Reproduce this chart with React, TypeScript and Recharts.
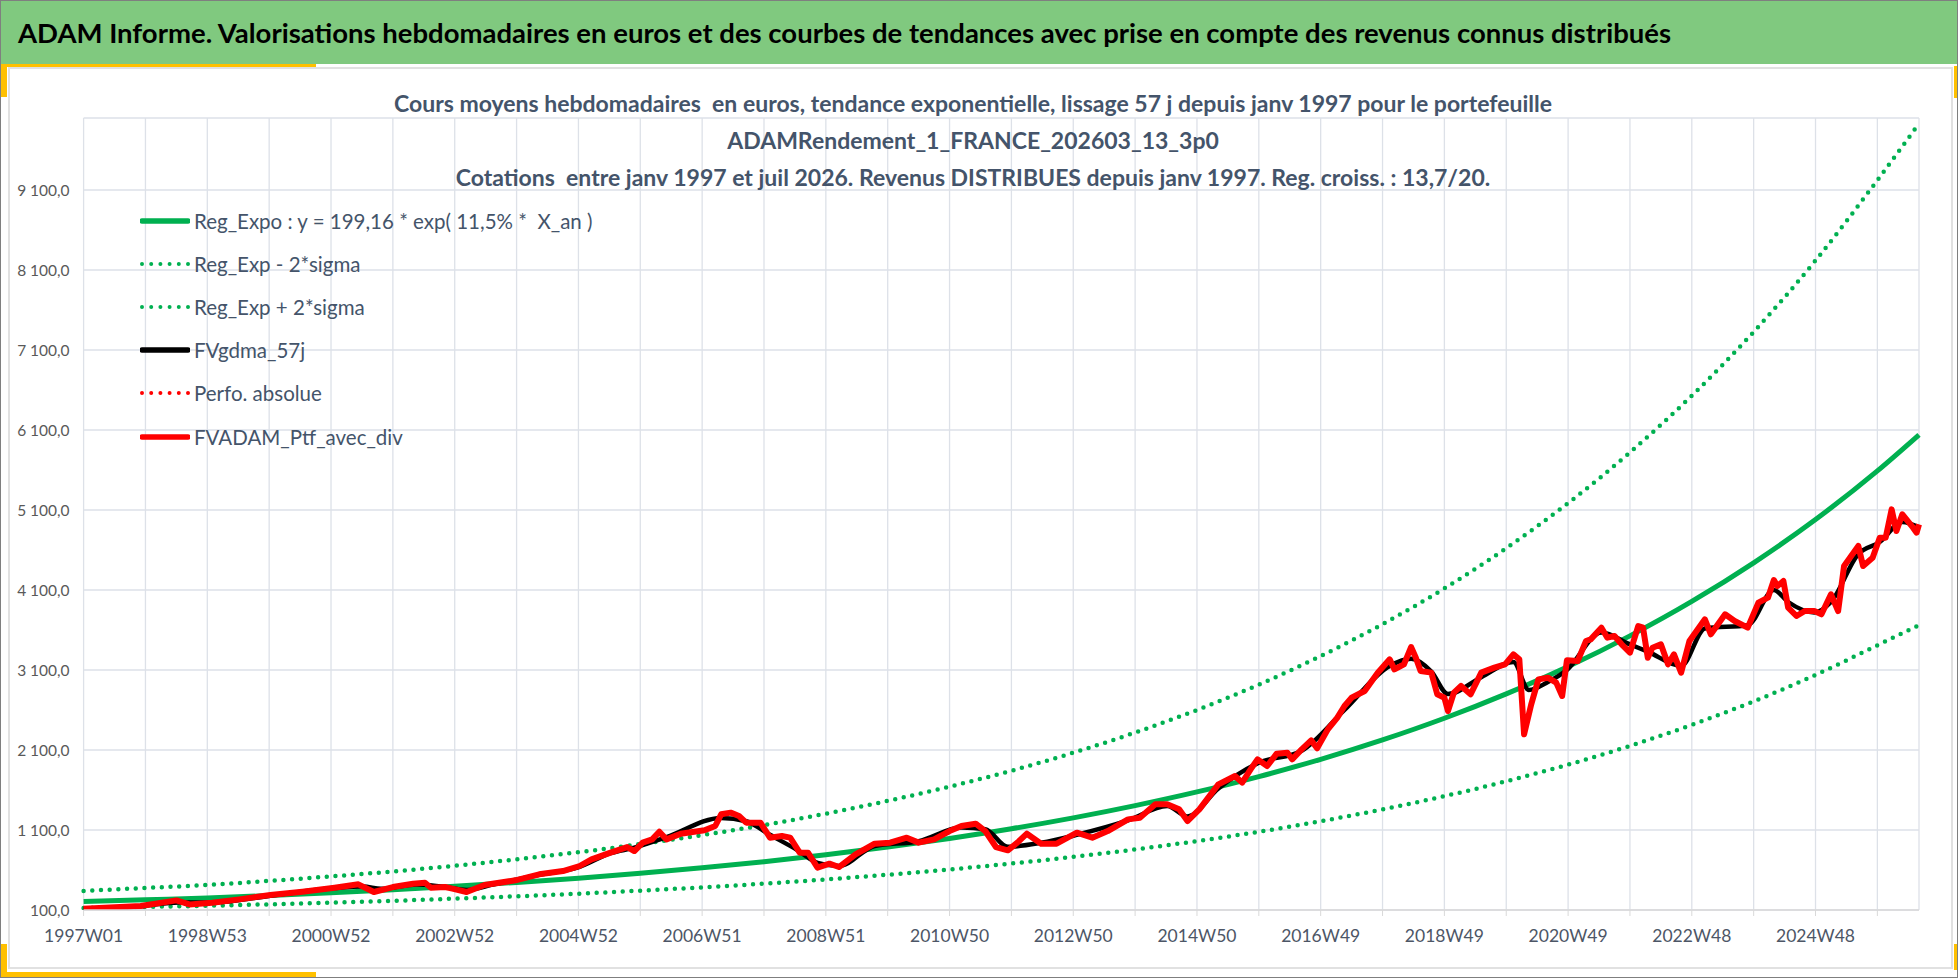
import React from "react";
import { LineChart, Line, XAxis, YAxis, CartesianGrid } from "recharts";

const FONT = "Lato, 'Open Sans', sans-serif";
const SLATE = "#44546a";
const GREEN = "#00b050";
const RED = "#ff0000";

// category labels shown every 104 weeks, grid every 52 weeks
const weekLabels = [
  "1997W01", "1998W53", "2000W52", "2002W52", "2004W52", "2006W51", "2008W51", "2010W50",
  "2012W50", "2014W50", "2016W49", "2018W49", "2020W49", "2022W48", "2024W48",
];
const gridWeeks = [
  0, 52, 104, 156, 208, 260, 312, 364, 416, 468, 520, 572, 624, 676, 728, 780, 832, 884,
  936, 988, 1040, 1092, 1144, 1196, 1248, 1300, 1352, 1404, 1456, 1508,
];
const yTicks = [100, 1100, 2100, 3100, 4100, 5100, 6100, 7100, 8100, 9100];

// trend curves, read at each yearly gridline + last week
const trendWeeks = [
  0, 52, 104, 156, 208, 260, 312, 364, 416, 468, 520, 572, 624, 676, 728, 780, 832, 884,
  936, 988, 1040, 1092, 1144, 1196, 1248, 1300, 1352, 1404, 1456, 1508, 1543,
];
const regExpo = [
  205, 228, 250, 281, 315, 353, 396, 445, 498, 560, 628, 704, 790, 887, 995, 1116, 1252, 1405,
  1576, 1768, 1984, 2226, 2497, 2802, 3143, 3527, 3957, 4440, 4981, 5589, 6040,
];
const regLow = [
  125, 139, 153, 171, 192, 215, 242, 271, 304, 342, 383, 429, 482, 541, 607, 681, 764, 857,
  961, 1078, 1210, 1358, 1523, 1709, 1917, 2151, 2414, 2708, 3038, 3409, 3660,
];
const regHigh = [
  338, 376, 413, 464, 520, 582, 653, 734, 822, 924, 1036, 1162, 1304, 1464, 1642, 1841, 2066, 2318,
  2600, 2917, 3274, 3673, 4120, 4623, 5186, 5820, 6529, 7326, 8219, 9222, 9930,
];

// FVADAM_Ptf_avec_div
const ptfWeeks = [
  0, 48, 78, 89, 108, 131, 157, 184, 211, 231, 244, 260, 277, 287, 292, 304, 310, 322, 337, 363,
  383, 403, 417, 427, 443, 457, 463, 470, 478, 484, 490, 502, 522, 531, 536, 544, 551, 557, 569, 577,
  587, 594, 602, 609, 617, 627, 635, 649, 665, 678, 692, 702, 715, 728, 738, 750, 758, 767, 777, 785,
  793, 805, 818, 835, 848, 861, 878, 888, 901, 911, 921, 928, 938, 954, 968, 974, 982, 987, 995, 1003,
  1012, 1016, 1024, 1032, 1037, 1046, 1054, 1060, 1066, 1077, 1088, 1098, 1102, 1110, 1116, 1120, 1124, 1133, 1138, 1144,
  1147, 1152, 1158, 1166, 1175, 1186, 1195, 1202, 1207, 1211, 1217, 1223, 1231, 1238, 1243, 1247, 1256, 1263, 1267, 1276,
  1281, 1287, 1293, 1300, 1307, 1311, 1315, 1319, 1326, 1332, 1337, 1343, 1350, 1363, 1368, 1380, 1388, 1399, 1408, 1416,
  1421, 1424, 1429, 1433, 1440, 1447, 1455, 1461, 1469, 1475, 1480, 1492, 1496, 1504, 1510, 1515, 1520, 1524, 1529, 1538,
  1541, 1543,
];
const ptfValues = [
  115, 150, 220, 170, 190, 233, 287, 329, 379, 421, 325, 387, 429, 441, 379, 387, 367, 325, 412, 471,
  546, 587, 650, 733, 817, 887, 837, 942, 983, 1079, 983, 1054, 1096, 1150, 1296, 1317, 1275, 1192, 1192, 1004,
  1025, 1004, 817, 817, 629, 679, 637, 796, 929, 942, 1004, 942, 983, 1087, 1150, 1179, 1087, 887, 846, 942,
  1054, 929, 929, 1067, 1004, 1087, 1233, 1254, 1421, 1421, 1358, 1212, 1358, 1671, 1775, 1692, 1879, 1983, 1900, 2054,
  2067, 1983, 2108, 2221, 2121, 2358, 2504, 2650, 2754, 2837, 3067, 3233, 3108, 3171, 3387, 3254, 3087, 3067, 2796, 2754,
  2587, 2817, 2900, 2796, 3067, 3129, 3171, 3296, 3233, 2296, 2671, 2983, 3004, 2942, 2775, 3221, 3212, 3462, 3483, 3629,
  3504, 3525, 3421, 3317, 3650, 3629, 3254, 3379, 3421, 3171, 3296, 3067, 3462, 3733, 3546, 3796, 3712, 3629, 3942, 4004,
  4225, 4150, 4212, 3879, 3775, 3837, 3837, 3796, 4046, 3837, 4400, 4650, 4400, 4504, 4754, 4754, 5108, 4837, 5046, 4879,
  4817, 4921,
];

// FVgdma_57j (smoothed, mostly hidden under the red line)
const gdmaWeeks = [
  0, 50, 80, 110, 160, 211, 235, 250, 280, 300, 322, 345, 383, 417, 443, 463, 490, 536, 557, 577,
  600, 617, 635, 665, 702, 738, 758, 777, 805, 835, 878, 911, 928, 954, 988, 1024, 1060, 1098, 1116, 1133,
  1147, 1175, 1202, 1215, 1231, 1247, 1276, 1300, 1315, 1343, 1363, 1399, 1421, 1433, 1455, 1469, 1492, 1510, 1529, 1543,
];
const gdmaValues = [
  115, 150, 195, 195, 285, 375, 395, 365, 420, 395, 350, 420, 540, 640, 810, 880, 1010, 1250, 1210, 1040,
  850, 690, 650, 900, 960, 1130, 1110, 890, 940, 1040, 1220, 1400, 1270, 1620, 1940, 2090, 2600, 3150, 3240, 3080,
  2800, 3010, 3200, 2850, 2950, 3100, 3570, 3420, 3330, 3150, 3620, 3660, 4100, 3950, 3820, 3950, 4550, 4700, 4950, 4880,
];

const legendItems = [
  { label: "Reg_Expo : y = 199,16 * exp( 11,5% *  X_an )", color: GREEN, dotted: false },
  { label: "Reg_Exp - 2*sigma", color: GREEN, dotted: true },
  { label: "Reg_Exp + 2*sigma", color: GREEN, dotted: true },
  { label: "FVgdma_57j", color: "#000000", dotted: false },
  { label: "Perfo. absolue", color: RED, dotted: true },
  { label: "FVADAM_Ptf_avec_div", color: RED, dotted: false },
];

const subtitles = [
  "Cours moyens hebdomadaires  en euros, tendance exponentielle, lissage 57 j depuis janv 1997 pour le portefeuille",
  "ADAMRendement_1_FRANCE_202603_13_3p0",
  "Cotations  entre janv 1997 et juil 2026. Revenus DISTRIBUES depuis janv 1997. Reg. croiss. : 13,7/20.",
];

const pts = (ws: number[], vs: number[]) => ws.map((w, i) => ({ w, v: vs[i] }));

const fmtY = (v: number) => {
  const th = Math.floor(v / 1000);
  const rest = v % 1000;
  return th > 0 ? `${th} ${String(rest).padStart(3, "0")},0` : `${rest},0`;
};

const fmtX = (w: number) => (w % 104 === 0 ? weekLabels[w / 104] ?? "" : "");

function ChartLegend() {
  return (
    <div style={{ position: "absolute", left: 139, top: 198, fontFamily: FONT }}>
      {legendItems.map((it) => (
        <div key={it.label} style={{ display: "flex", alignItems: "center", height: 43.2 }}>
          <svg width={50} height={12} style={{ display: "block" }}>
            <line
              x1={2} y1={6} x2={48} y2={6}
              stroke={it.color}
              strokeWidth={it.dotted ? 4 : 5.5}
              strokeLinecap="round"
              strokeDasharray={it.dotted ? "0 9.2" : undefined}
            />
          </svg>
          <span style={{ marginLeft: 4, fontSize: 20.5, color: SLATE, whiteSpace: "pre" }}>{it.label}</span>
        </div>
      ))}
    </div>
  );
}

export default function App() {
  const dotted = { strokeWidth: 4.5, strokeDasharray: "0 8.7", strokeLinecap: "round" as const };
  return (
    <div style={{ position: "absolute", left: 0, top: 0, width: 1958, height: 978, background: "#fff",
      border: "1px solid #7f7f7f", boxSizing: "border-box", overflow: "hidden", fontFamily: FONT }}>
      {/* header band */}
      <div style={{ position: "absolute", left: 0, top: 0, width: 1958, height: 63, background: "#80c97f" }} />
      <div style={{ position: "absolute", left: 17, top: 0, height: 63, lineHeight: "64px", fontSize: 27.5,
        fontWeight: "bold", color: "#000", whiteSpace: "pre" }}>
        ADAM Informe. Valorisations hebdomadaires en euros et des courbes de tendances avec prise en compte des revenus connus distribués
      </div>
      {/* inner panel */}
      <div style={{ position: "absolute", left: 7, top: 66, width: 1945, height: 902, border: "2px solid #e1e1e1",
        boxSizing: "border-box" }} />
      {/* yellow accents */}
      <div style={{ position: "absolute", left: 0, top: 63, width: 315, height: 3, background: "#ffc000" }} />
      <div style={{ position: "absolute", left: 0, top: 63, width: 6, height: 33, background: "#ffc000" }} />
      <div style={{ position: "absolute", left: 0, top: 943, width: 6, height: 34, background: "#ffc000" }} />
      <div style={{ position: "absolute", left: 0, top: 971, width: 315, height: 6, background: "#ffc000" }} />
      <div style={{ position: "absolute", left: 1953, top: 65, width: 3, height: 32, background: "#ffc000" }} />
      <div style={{ position: "absolute", left: 1953, top: 943, width: 3, height: 26, background: "#ffc000" }} />

      <div style={{ position: "absolute", left: 0, top: 0 }}>
        <LineChart width={1958} height={978} margin={{ top: 117, right: 40, bottom: 29, left: 12.6 }}>
          <CartesianGrid stroke="#dde1e8" strokeWidth={1.3} />
          <XAxis
            dataKey="w" type="number" domain={[0, 1543]} ticks={gridWeeks} interval={0}
            tickFormatter={fmtX} height={40} tickSize={6} tickMargin={14}
            axisLine={{ stroke: "#d9d9d9", strokeWidth: 1.3 }} tickLine={{ stroke: "#d9d9d9" }}
            tick={{ fill: "#4d5666", fontSize: 17.5, fontFamily: FONT }}
          />
          <YAxis
            type="number" domain={[100, 10000]} ticks={yTicks} interval={0} allowDataOverflow
            tickFormatter={fmtY} width={70} axisLine={false} tickLine={false} tickMargin={8}
            tick={{ fill: "#595959", fontSize: 15.5, fontFamily: FONT }}
          />
          <Line data={pts(trendWeeks, regExpo)} dataKey="v" type="monotone" stroke={GREEN} strokeWidth={5}
            dot={false} isAnimationActive={false} />
          <Line data={pts(trendWeeks, regLow)} dataKey="v" type="monotone" stroke={GREEN} {...dotted}
            dot={false} isAnimationActive={false} />
          <Line data={pts(trendWeeks, regHigh)} dataKey="v" type="monotone" stroke={GREEN} {...dotted}
            dot={false} isAnimationActive={false} />
          <Line data={pts(gdmaWeeks, gdmaValues)} dataKey="v" type="monotone" stroke="#000" strokeWidth={4.5}
            dot={false} isAnimationActive={false} />
          <Line data={pts(ptfWeeks, ptfValues)} dataKey="v" type="linear" stroke={RED} strokeWidth={6}
            strokeLinejoin="round" dot={false} isAnimationActive={false} />
        </LineChart>
      </div>

      {subtitles.map((s, i) => (
        <div key={i} style={{ position: "absolute", left: 0, width: 1944, top: 84 + i * 37, height: 36,
          lineHeight: "36px", textAlign: "center", fontSize: 23, fontWeight: "bold", color: SLATE, whiteSpace: "pre" }}>
          {s}
        </div>
      ))}
      <ChartLegend />
    </div>
  );
}
